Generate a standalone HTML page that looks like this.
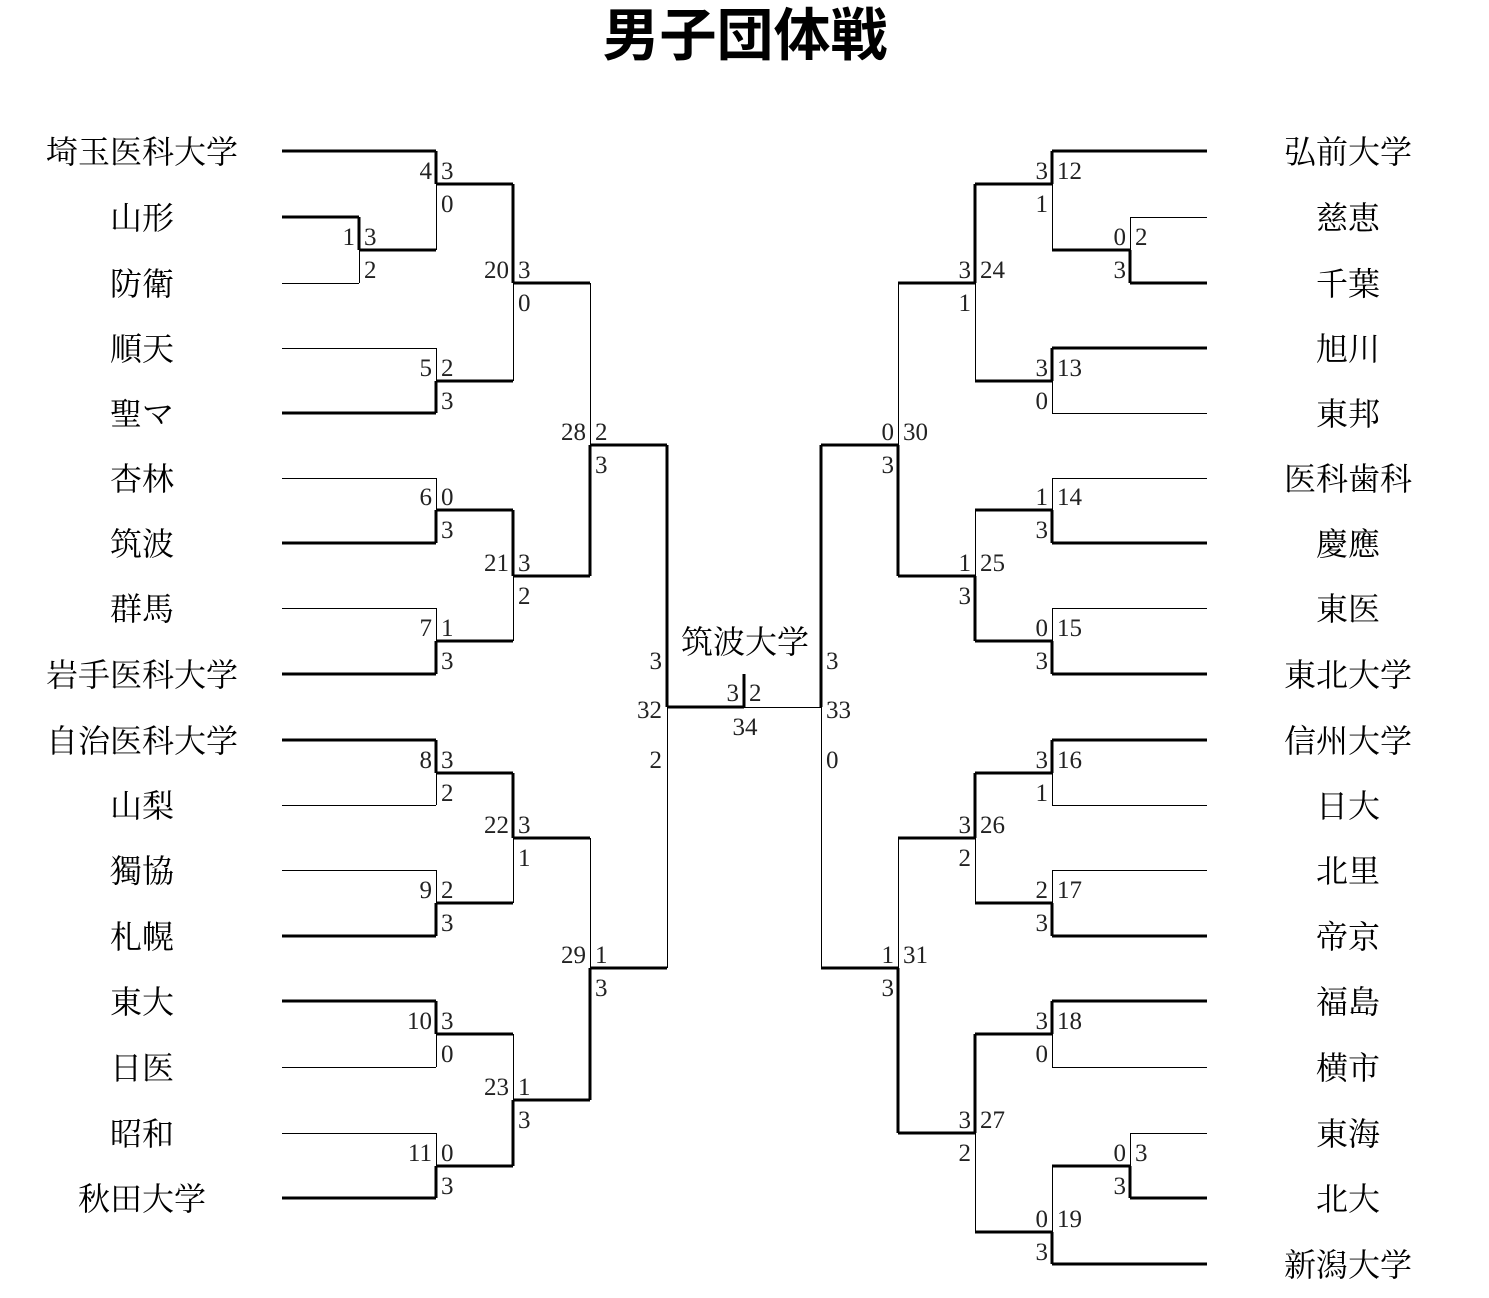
<!DOCTYPE html>
<html><head><meta charset="utf-8"><style>
html,body{margin:0;padding:0;background:#fff;width:1489px;height:1298px;overflow:hidden}
svg{display:block}
.t{font-family:"Liberation Serif","Noto Serif CJK SC",serif;font-size:32px;fill:#000;text-anchor:middle}
.n{font-family:"Liberation Serif",serif;font-size:25px;fill:#222}
.e{text-anchor:end}
.m{text-anchor:middle}
.k{stroke:#000;stroke-width:3;fill:none}
.h{stroke:#000;stroke-width:1;fill:none}
</style></head><body>
<svg width="1489" height="1298" xmlns="http://www.w3.org/2000/svg">
<text x="745" y="55" style="font-family:'Noto Sans CJK JP',sans-serif;font-weight:bold;font-size:57px;fill:#000" text-anchor="middle">男子団体戦</text>
<g shape-rendering="crispEdges">
<path class="k" d="M282 151H436 M282 217H359 M282 413H436 M282 543H436 M282 674H436 M282 740H436 M282 936H436 M282 1001H436 M282 1198H436
M436 184H513 M359 250H436 M436 381H513 M436 510H513 M436 641H513 M436 773H513 M436 903H513 M436 1034H513 M436 1166H513
M513 283H590 M513 576H590 M513 838H590 M513 1100H590 M590 445H667 M590 968H667
M359 217V250 M436 151V184 M436 381V413 M436 510V543 M436 641V674 M436 740V773 M436 903V936 M436 1001V1034 M436 1166V1198
M513 184V283 M513 510V576 M513 773V838 M513 1100V1166 M590 445V576 M590 968V1100 M667 445V707 M667 707H744 M744 674V707"/>
<path class="h" d="M282 283.5H359 M282 348.5H436 M282 478.5H436 M282 608.5H436 M282 805.5H436 M282 870.5H436 M282 1067.5H436 M282 1133.5H436
M359.5 250V283 M436.5 184V250 M436.5 348V381 M436.5 478V510 M436.5 608V641 M436.5 773V805 M436.5 870V903 M436.5 1034V1067 M436.5 1133V1166
M513.5 283V381 M513.5 576V641 M513.5 838V903 M513.5 1034V1100 M590.5 283V445 M590.5 838V968 M667.5 707V968 M744 707.5H821"/>
<path class="k" d="M1052 151H1207 M1130 283H1207 M1052 348H1207 M1052 543H1207 M1052 674H1207 M1052 740H1207 M1052 936H1207 M1052 1001H1207 M1130 1198H1207 M1052 1264H1207
M1052 250H1130 M1052 1166H1130
M975 184H1052 M975 381H1052 M975 510H1052 M975 641H1052 M975 773H1052 M975 903H1052 M975 1034H1052 M975 1232H1052
M898 283H975 M898 576H975 M898 838H975 M898 1133H975 M821 445H898 M821 968H898
M1130 250V283 M1130 1166V1198 M1052 151V184 M1052 348V381 M1052 510V543 M1052 641V674 M1052 740V773 M1052 903V936 M1052 1001V1034 M1052 1232V1264
M975 184V283 M975 576V641 M975 773V838 M975 1034V1133 M898 445V576 M898 968V1133 M821 445V707"/>
<path class="h" d="M1130 217.5H1207 M1052 413.5H1207 M1052 478.5H1207 M1052 608.5H1207 M1052 805.5H1207 M1052 870.5H1207 M1052 1067.5H1207 M1130 1133.5H1207
M1130.5 217V250 M1130.5 1133V1166 M1052.5 184V250 M1052.5 381V413 M1052.5 478V510 M1052.5 608V641 M1052.5 773V805 M1052.5 870V903 M1052.5 1034V1067 M1052.5 1166V1232
M975.5 283V381 M975.5 510V576 M975.5 838V903 M975.5 1133V1232 M898.5 283V445 M898.5 838V968 M821.5 707V968"/>
</g>
<g class="t">
<text x="142" y="163">埼玉医科大学</text><text x="142" y="229">山形</text><text x="142" y="295">防衛</text><text x="142" y="360">順天</text>
<text x="142" y="425">聖マ</text><text x="142" y="490">杏林</text><text x="142" y="555">筑波</text><text x="142" y="620">群馬</text>
<text x="142" y="686">岩手医科大学</text><text x="142" y="752">自治医科大学</text><text x="142" y="817">山梨</text><text x="142" y="882">獨協</text>
<text x="142" y="948">札幌</text><text x="142" y="1013">東大</text><text x="142" y="1079">日医</text><text x="142" y="1145">昭和</text><text x="142" y="1210">秋田大学</text>
<text x="1348" y="163">弘前大学</text><text x="1348" y="229">慈恵</text><text x="1348" y="295">千葉</text><text x="1348" y="360">旭川</text>
<text x="1348" y="425">東邦</text><text x="1348" y="490">医科歯科</text><text x="1348" y="555">慶應</text><text x="1348" y="620">東医</text>
<text x="1348" y="686">東北大学</text><text x="1348" y="752">信州大学</text><text x="1348" y="817">日大</text><text x="1348" y="882">北里</text>
<text x="1348" y="948">帝京</text><text x="1348" y="1013">福島</text><text x="1348" y="1079">横市</text><text x="1348" y="1145">東海</text>
<text x="1348" y="1210">北大</text><text x="1348" y="1276">新潟大学</text>
<text x="745" y="653">筑波大学</text>
</g>
<g class="n">
<g class="e">
<text x="355" y="245">1</text><text x="432" y="179">4</text><text x="432" y="376">5</text><text x="432" y="505">6</text><text x="432" y="636">7</text>
<text x="432" y="768">8</text><text x="432" y="898">9</text><text x="432" y="1029">10</text><text x="432" y="1161">11</text>
<text x="509" y="278">20</text><text x="509" y="571">21</text><text x="509" y="833">22</text><text x="509" y="1095">23</text>
<text x="586" y="440">28</text><text x="586" y="963">29</text>
<text x="662" y="669">3</text><text x="662" y="718">32</text><text x="662" y="768">2</text>
<text x="1126" y="245">0</text><text x="1126" y="278">3</text><text x="1126" y="1161">0</text><text x="1126" y="1194">3</text>
<text x="1048" y="179">3</text><text x="1048" y="212">1</text><text x="1048" y="376">3</text><text x="1048" y="409">0</text>
<text x="1048" y="505">1</text><text x="1048" y="538">3</text><text x="1048" y="636">0</text><text x="1048" y="669">3</text>
<text x="1048" y="768">3</text><text x="1048" y="801">1</text><text x="1048" y="898">2</text><text x="1048" y="931">3</text>
<text x="1048" y="1029">3</text><text x="1048" y="1062">0</text><text x="1048" y="1227">0</text><text x="1048" y="1260">3</text>
<text x="971" y="278">3</text><text x="971" y="311">1</text><text x="971" y="571">1</text><text x="971" y="604">3</text>
<text x="971" y="833">3</text><text x="971" y="866">2</text><text x="971" y="1128">3</text><text x="971" y="1161">2</text>
<text x="894" y="440">0</text><text x="894" y="473">3</text><text x="894" y="963">1</text><text x="894" y="996">3</text>
<text x="739" y="701">3</text>
</g>
<text x="364" y="245">3</text><text x="364" y="278">2</text>
<text x="441" y="179">3</text><text x="441" y="212">0</text><text x="441" y="376">2</text><text x="441" y="409">3</text>
<text x="441" y="505">0</text><text x="441" y="538">3</text><text x="441" y="636">1</text><text x="441" y="669">3</text>
<text x="441" y="768">3</text><text x="441" y="801">2</text><text x="441" y="898">2</text><text x="441" y="931">3</text>
<text x="441" y="1029">3</text><text x="441" y="1062">0</text><text x="441" y="1161">0</text><text x="441" y="1194">3</text>
<text x="518" y="278">3</text><text x="518" y="311">0</text><text x="518" y="571">3</text><text x="518" y="604">2</text>
<text x="518" y="833">3</text><text x="518" y="866">1</text><text x="518" y="1095">1</text><text x="518" y="1128">3</text>
<text x="595" y="440">2</text><text x="595" y="473">3</text><text x="595" y="963">1</text><text x="595" y="996">3</text>
<text x="1135" y="245">2</text><text x="1135" y="1161">3</text>
<text x="1057" y="179">12</text><text x="1057" y="376">13</text><text x="1057" y="505">14</text><text x="1057" y="636">15</text>
<text x="1057" y="768">16</text><text x="1057" y="898">17</text><text x="1057" y="1029">18</text><text x="1057" y="1227">19</text>
<text x="980" y="278">24</text><text x="980" y="571">25</text><text x="980" y="833">26</text><text x="980" y="1128">27</text>
<text x="903" y="440">30</text><text x="903" y="963">31</text>
<text x="826" y="669">3</text><text x="826" y="718">33</text><text x="826" y="768">0</text>
<text x="749" y="701">2</text>
<text x="745" y="735" class="m">34</text>
</g>
</svg>
</body></html>
